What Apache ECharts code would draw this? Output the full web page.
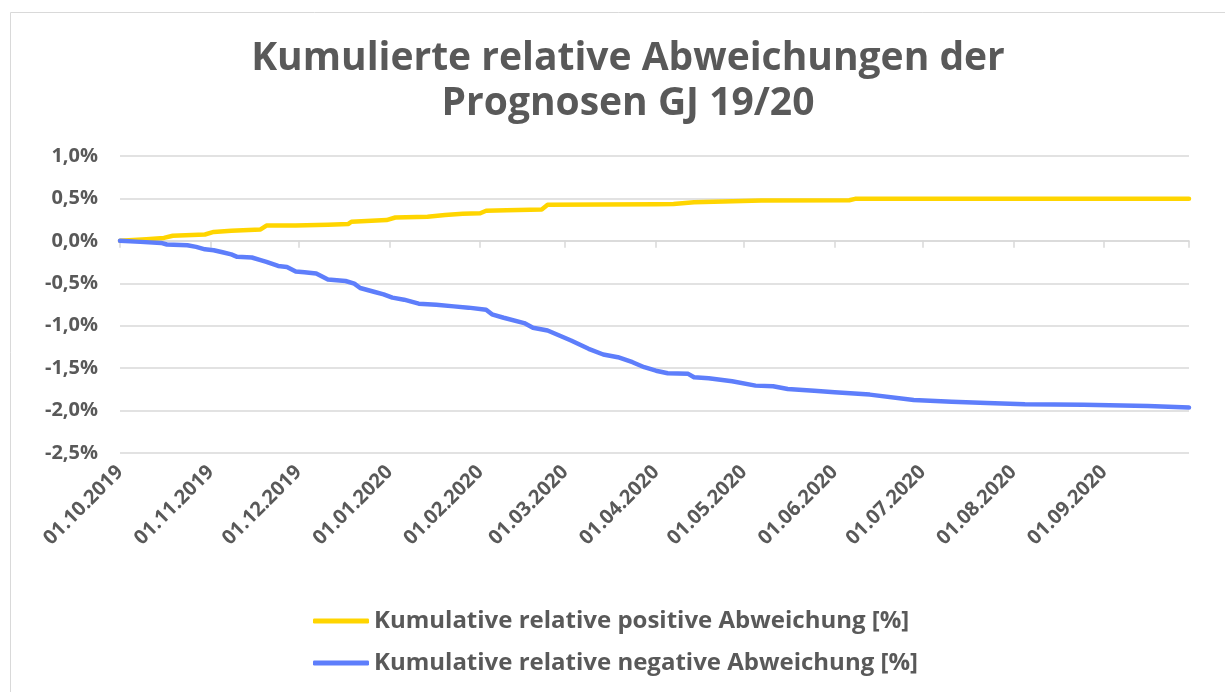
<!DOCTYPE html>
<html>
<head>
<meta charset="utf-8">
<script src="https://cdn.jsdelivr.net/npm/echarts@6/dist/echarts.min.js"></script>
<style>
  html, body { margin: 0; padding: 0; background: #fff; }
  #chart { width: 1225px; height: 692px; }
</style>
</head>
<body>
<div id="chart"></div>
<script>
// values (dates dd.mm.yyyy, values in %)
const titleText = 'Kumulierte relative Abweichungen der\nPrognosen GJ 19/20';
const seriesNames = ['Kumulative relative positive Abweichung [%]', 'Kumulative relative negative Abweichung [%]'];

const posDates = ['01.10.2019', '10.10.2019', '16.10.2019', '19.10.2019', '30.10.2019', '02.11.2019', '08.11.2019',
    '18.11.2019', '20.11.2019', '30.11.2019', '11.12.2019', '18.12.2019', '19.12.2019', '31.12.2019', '03.01.2020',
    '14.01.2020', '20.01.2020', '26.01.2020', '01.02.2020', '03.02.2020', '10.02.2020', '22.02.2020', '24.02.2020',
    '01.04.2020', '07.04.2020', '14.04.2020', '24.04.2020', '07.05.2020', '06.06.2020', '08.06.2020', '30.09.2020'];
const posValues = [0, 0.02, 0.035, 0.06, 0.075, 0.105, 0.12,
    0.135, 0.18, 0.18, 0.19, 0.2, 0.225, 0.245, 0.275,
    0.285, 0.305, 0.32, 0.325, 0.355, 0.36, 0.37, 0.425,
    0.43, 0.435, 0.455, 0.465, 0.475, 0.478, 0.495, 0.495];

const negDates = ['01.10.2019', '08.10.2019', '15.10.2019', '17.10.2019', '24.10.2019', '27.10.2019', '30.10.2019',
    '02.11.2019', '05.11.2019', '08.11.2019', '10.11.2019', '15.11.2019', '18.11.2019', '20.11.2019', '24.11.2019',
    '27.11.2019', '30.11.2019', '03.12.2019', '07.12.2019', '11.12.2019', '17.12.2019', '20.12.2019', '22.12.2019',
    '27.12.2019', '30.12.2019', '02.01.2020', '06.01.2020', '11.01.2020', '17.01.2020', '23.01.2020', '28.01.2020',
    '03.02.2020', '05.02.2020', '09.02.2020', '16.02.2020', '19.02.2020', '24.02.2020', '28.02.2020', '03.03.2020',
    '09.03.2020', '14.03.2020', '19.03.2020', '24.03.2020', '28.03.2020', '01.04.2020', '05.04.2020', '12.04.2020',
    '14.04.2020', '19.04.2020', '27.04.2020', '05.05.2020', '11.05.2020', '16.05.2020', '25.05.2020', '01.06.2020',
    '13.06.2020', '28.06.2020', '11.07.2020', '23.07.2020', '05.08.2020', '25.08.2020', '16.09.2020', '30.09.2020'];
const negValues = [0, -0.012, -0.024, -0.043, -0.051, -0.071, -0.1,
    -0.11, -0.134, -0.16, -0.188, -0.196, -0.228, -0.248, -0.296,
    -0.307, -0.36, -0.37, -0.385, -0.456, -0.473, -0.504, -0.556,
    -0.603, -0.63, -0.669, -0.693, -0.74, -0.752, -0.772, -0.787,
    -0.811, -0.866, -0.906, -0.969, -1.024, -1.056, -1.115, -1.174,
    -1.272, -1.339, -1.371, -1.43, -1.489, -1.53, -1.56, -1.567,
    -1.608, -1.619, -1.655, -1.706, -1.714, -1.745, -1.765, -1.785,
    -1.812, -1.875, -1.895, -1.91, -1.925, -1.93, -1.945, -1.965];

const yMin = -2.5, yMax = 1.0, yStep = 0.5;

// daily categories of the fiscal year 01.10.2019 - 30.09.2020
const days = [];
for (let t = Date.UTC(2019, 9, 1); t <= Date.UTC(2020, 8, 30); t += 86400000) {
    const d = new Date(t);
    const dd = String(d.getUTCDate()).padStart(2, '0');
    const mm = String(d.getUTCMonth() + 1).padStart(2, '0');
    days.push(dd + '.' + mm + '.' + d.getUTCFullYear());
}

const grey = '#595959';
const font = '"Open Sans", sans-serif';
const isMonthStart = (i, v) => v.indexOf('01.') === 0;

const chart = echarts.init(document.getElementById('chart'));
chart.setOption({
    animation: false,
    graphic: [{
        type: 'rect',
        shape: { x: 10.5, y: 12.5, width: 1240, height: 700 },
        style: { fill: 'none', stroke: '#d9d9d9', lineWidth: 1 },
        silent: true
    }],
    title: {
        text: titleText,
        left: 623,
        textAlign: 'center',
        top: 31,
        textStyle: { color: grey, fontFamily: font, fontSize: 39, fontWeight: 'bold', lineHeight: 45 }
    },
    legend: {
        orient: 'vertical',
        left: 308,
        top: 604,
        itemWidth: 56,
        itemHeight: 5,
        itemGap: 18,
        icon: 'roundRect',
        textStyle: { color: grey, fontFamily: font, fontSize: 24, fontWeight: 'bold' }
    },
    grid: { left: 120, right: 36, top: 156, bottom: 239, containLabel: false },
    xAxis: [{
        type: 'category',
        data: days,
        boundaryGap: false,
        position: 'bottom',
        axisLine: { show: false, onZero: false },
        axisTick: { show: false },
        splitLine: { show: false },
        axisLabel: {
            interval: isMonthStart,
            rotate: 45,
            margin: 16,
            color: grey,
            fontFamily: font,
            fontSize: 20,
            fontWeight: 'bold'
        }
    }, {
        type: 'category',
        data: days,
        boundaryGap: false,
        position: 'top',
        axisLine: { show: true, onZero: true, lineStyle: { color: '#d9d9d9', width: 1.5 } },
        axisTick: {
            show: true,
            inside: true,
            length: 7,
            interval: (i, v) => isMonthStart(i, v) || i === days.length - 1,
            lineStyle: { color: '#d9d9d9', width: 1.5 }
        },
        axisLabel: { show: false },
        splitLine: { show: false }
    }],
    yAxis: {
        type: 'value',
        min: yMin,
        max: yMax,
        interval: yStep,
        axisLine: { show: false },
        axisTick: { show: false },
        splitLine: { lineStyle: { color: '#d9d9d9', width: 1.5 } },
        axisLabel: {
            margin: 22,
            color: grey,
            fontFamily: font,
            fontSize: 20,
            fontWeight: 'bold',
            formatter: v => v.toFixed(1).replace('.', ',') + '%'
        }
    },
    series: [{
        name: seriesNames[0],
        type: 'line',
        data: posDates.map((d, i) => [d, posValues[i]]),
        showSymbol: false,
        color: '#FFD500',
        lineStyle: { width: 4.5, join: 'round', cap: 'round' }
    }, {
        name: seriesNames[1],
        type: 'line',
        data: negDates.map((d, i) => [d, negValues[i]]),
        showSymbol: false,
        color: '#5E7EFB',
        lineStyle: { width: 4.5, join: 'round', cap: 'round' }
    }]
});
</script>
</body>
</html>
